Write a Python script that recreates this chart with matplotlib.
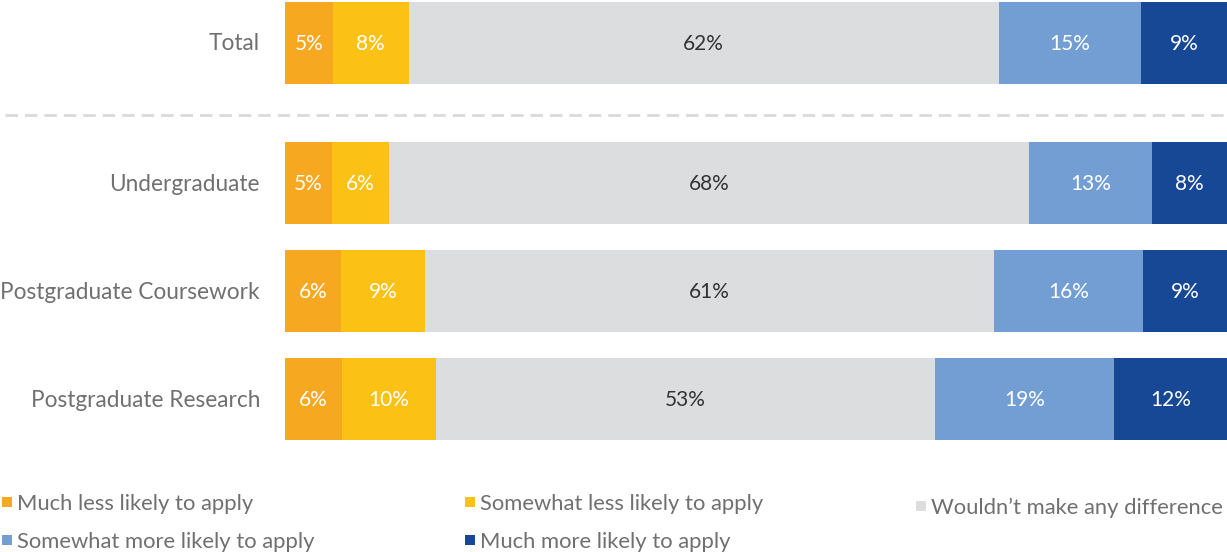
import matplotlib
matplotlib.use("Agg")
import matplotlib.pyplot as plt
from matplotlib.patches import Rectangle
import numpy as np

plt.rcParams['font.family'] = ['Lato', 'DejaVu Sans']

categories = ["Total", "Undergraduate", "Postgraduate Coursework", "Postgraduate Research"]
series_names = ["Much less likely to apply", "Somewhat less likely to apply",
                "Wouldn\u2019t make any difference", "Somewhat more likely to apply",
                "Much more likely to apply"]
much_less = [5, 5, 6, 6]
somewhat_less = [8, 6, 9, 10]
no_difference = [62, 68, 61, 53]
somewhat_more = [15, 13, 16, 19]
much_more = [9, 8, 9, 12]

colors = ["#F6A821", "#FBC115", "#DCDDDF", "#739ED3", "#174896"]
label_colors = ["white", "white", "#333333", "white", "white"]

W, H = 1227, 552
fig = plt.figure(figsize=(W / 100, H / 100), dpi=100)

# vertical layout: one row step = 108 px, Total row set apart from the others
step = 108.0
y_pos = np.array([0.0, 1.3, 2.3, 3.3])
top_px = 42.5
ax = fig.add_axes([285 / W, 0, 942 / W, 1])
ax.set_ylim((H - top_px) / step, -top_px / step)
ax.set_xlim(0, 100)
ax.axis("off")

text_dy = 1.5 / step
data = np.array([much_less, somewhat_less, no_difference, somewhat_more, much_more], dtype=float)
shares = data / data.sum(axis=0) * 100
left = np.zeros(len(categories))
for i in range(len(series_names)):
    ax.barh(y_pos, shares[i], left=left, height=82 / step, color=colors[i], linewidth=0)
    for j in range(len(categories)):
        ax.text(left[j] + shares[i][j] / 2, y_pos[j] + text_dy, f"{int(data[i][j])}%",
                ha="center", va="center", fontsize=15, color=label_colors[i])
    left += shares[i]

label_color = "#707070"
for j, cat in enumerate(categories):
    ax.text(-2.65, y_pos[j] + text_dy, cat, ha="right", va="center", fontsize=16.3,
            color=label_color)

# dashed separator between Total and the breakdown rows
sep_y = (115 - top_px) / step
ax.plot([-29.7, 100], [sep_y, sep_y], color="#DADADA", lw=2,
        dashes=(4.5, 2.5), clip_on=False, solid_capstyle="butt")

# legend
legend_items = [
    (0, 2, 502),
    (1, 465, 502),
    (2, 916, 506),
    (3, 2, 540),
    (4, 465, 540),
]
for idx, x0, yc in legend_items:
    fig.patches.append(Rectangle((x0 / W, (H - yc - 5) / H), 10 / W, 10 / H,
                                 transform=fig.transFigure, color=colors[idx], lw=0))
    fig.text((x0 + 15) / W, (H - yc - 1.5) / H, series_names[idx], ha="left", va="center",
             fontsize=15.8, color=label_color)

fig.savefig("out.png", dpi=100)
